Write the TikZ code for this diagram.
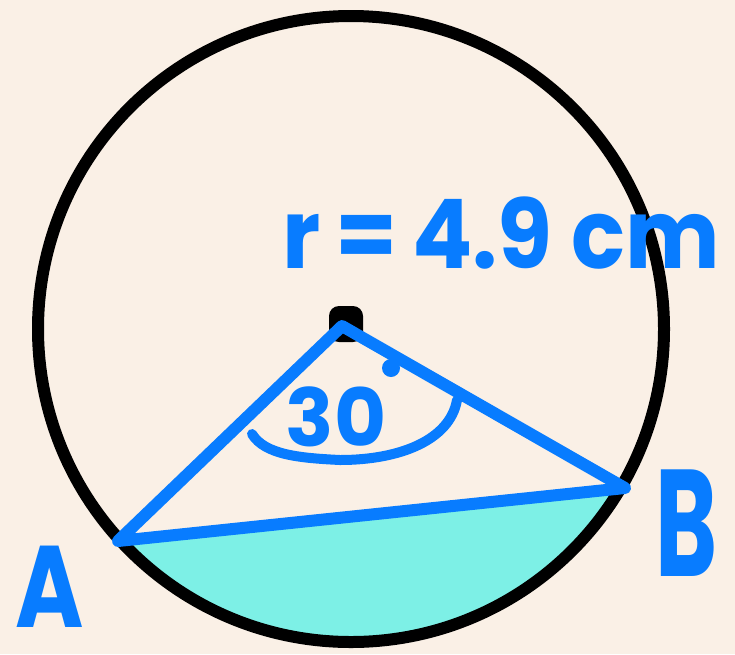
\documentclass[tikz,border=0pt]{standalone}
\usepackage{fontspec}
\newfontfamily\hand{Poppins}[BoldFont={* Bold}]
\definecolor{bg}{HTML}{FAF0E6}
\definecolor{pen}{HTML}{087CFF}
\definecolor{seg}{HTML}{7DF0E6}
\begin{document}
\begin{tikzpicture}[x=1pt,y=-1pt,
  blueline/.style={draw=pen,line width=12pt,line cap=round,line join=round},
  lbl/.style={text=pen,inner sep=0pt,font=\hand\bfseries}]
\fill[bg] (0,0) rectangle (735,654);
\useasboundingbox (0,0) rectangle (735,654);
\coordinate (O) at (351,329);
\coordinate (C) at (342,326);
\coordinate (A) at (118,541);
\coordinate (B) at (625,488);
% segment
\begin{scope}
\clip (O) circle[radius=313];
\fill[seg] (A) -- (B) -- (735,654) -- (0,654) -- cycle;
\end{scope}
\draw[line width=12pt] (O) circle[radius=313];
% centre dot
\fill[rounded corners=10pt] (329,306) rectangle (363,342);
% triangle
\draw[blueline] (A) -- (C) -- (B) -- cycle;
% angle arc
\draw[draw=pen,line width=10pt,line cap=round] (252,434) .. controls (265,455) and (300,458) .. (340,460) .. controls (400,460) and (450,440) .. (457,400);
% labels
\node[lbl,font=\hand\bfseries\fontsize{80}{80}\selectfont,anchor=base] (ang) at (336,446) {30};
\fill[pen] (391,368) circle[radius=9];
\node[lbl,font=\hand\bfseries\fontsize{96}{96}\selectfont,anchor=base west,xscale=0.93] (rlab) at (282,268) {r\,=\,4.9 cm};
\node[lbl,font=\hand\bfseries\fontsize{116}{116}\selectfont,anchor=south,xscale=0.8] (Alab) at (50,628) {A};
\node[lbl,font=\hand\bfseries\fontsize{152}{152}\selectfont,anchor=base,xscale=0.62] (Blab) at (687,576) {B};
\end{tikzpicture}
\end{document}
